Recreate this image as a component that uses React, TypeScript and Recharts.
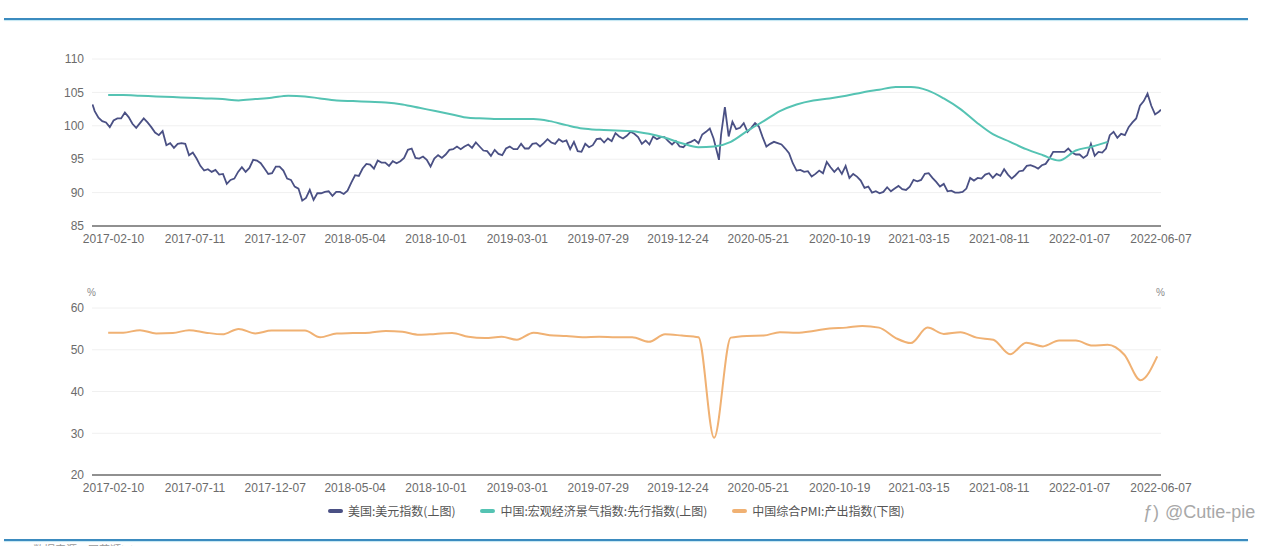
import React from "react";
import { LineChart, Line, XAxis, YAxis, CartesianGrid } from "recharts";

const USD_COLOR = "#4a5084";
const LEAD_COLOR = "#55c3b3";
const PMI_COLOR = "#f0b173";
const AXIS_TEXT = "#6b6b6b";
const FONT = '"Liberation Sans", Arial, "Noto Sans CJK SC", sans-serif';
const CJK_FONT = '"Noto Sans CJK SC", "Liberation Sans", sans-serif';

const DAY = 86400000;
const X_START = "2017-01-01";
const X_END = "2022-06-07";

const xTickLabels = [
  "2017-02-10", "2017-07-11", "2017-12-07", "2018-05-04", "2018-10-01",
  "2019-03-01", "2019-07-29", "2019-12-24", "2020-05-21", "2020-10-19",
  "2021-03-15", "2021-08-11", "2022-01-07", "2022-06-07",
];

const topTicks = [85, 90, 95, 100, 105, 110];
const bottomTicks = [20, 30, 40, 50, 60];

// 美国:美元指数 - weekly closes (Fridays), one list per year
const usd2017Start = "2017-01-06";
const usd2017 = [
  102.2, 101.2, 100.7, 100.5, 99.8, 100.8, 101.1, 101.1, 102.0, 101.3, 100.3, 99.7, 100.4,
  101.1, 100.5, 99.8, 99.0, 98.6, 99.2, 97.1, 97.4, 96.7, 97.3, 97.4, 97.3, 95.6,
  96.0, 95.1, 94.0, 93.3, 93.5, 93.1, 93.4, 92.7, 92.8, 91.3, 91.9, 92.1, 93.1,
  93.8, 93.1, 93.7, 94.9, 94.8, 94.4, 93.6, 92.8, 92.9, 93.9, 93.9, 93.3, 92.1,
];
const usd2018Start = "2018-01-05";
const usd2018 = [
  91.9, 90.9, 90.6, 88.8, 89.2, 90.4, 88.9, 89.9, 89.9, 90.1, 90.2, 89.5, 90.1,
  90.1, 89.8, 90.3, 91.5, 92.6, 92.5, 93.6, 94.3, 94.2, 93.6, 94.8, 94.5, 94.5,
  94.0, 94.7, 94.4, 94.7, 95.2, 96.4, 96.6, 95.2, 95.1, 95.4, 94.9, 93.9, 95.1,
  95.6, 95.2, 95.7, 96.4, 96.5, 96.9, 96.5, 96.9, 97.2, 96.7, 97.5, 96.9, 96.3,
];
const usd2019Start = "2019-01-04";
const usd2019 = [
  96.2, 95.5, 96.4, 95.8, 95.6, 96.6, 96.9, 96.5, 96.5, 97.3, 96.6, 96.6, 97.3,
  97.4, 96.9, 97.4, 98.0, 97.5, 97.3, 98.0, 97.6, 97.8, 96.5, 97.6, 96.2, 96.1,
  97.3, 96.8, 97.1, 98.0, 98.1, 97.5, 98.1, 97.7, 98.9, 98.4, 98.1, 98.5, 99.1,
  98.8, 98.3, 97.3, 97.8, 97.2, 98.4, 98.0, 98.3, 98.3, 97.7, 97.2, 97.7, 96.9,
];
const usd2020Start = "2020-01-03";
const usd2020 = [
  96.8, 97.4, 97.6, 97.9, 97.4, 98.7, 99.1, 99.6, 98.1, 95.9, 98.7, 102.8, 98.4,
  100.6, 99.5, 99.7, 100.4, 99.1, 99.7, 100.4, 99.9, 98.3, 96.9, 97.3, 97.6, 97.4,
  97.2, 96.6, 95.9, 94.4, 93.3, 93.4, 93.1, 93.2, 92.4, 92.8, 93.3, 92.9, 94.6,
  93.8, 93.1, 93.7, 92.8, 94.0, 92.2, 92.8, 92.4, 91.8, 90.7, 90.9, 90.0, 90.2,
];
const usd2021Start = "2021-01-01";
const usd2021 = [
  89.9, 90.1, 90.8, 90.2, 90.6, 91.0, 90.5, 90.4, 90.9, 91.9, 91.7, 91.9, 92.8,
  92.9, 92.2, 91.6, 90.9, 91.3, 90.2, 90.3, 90.0, 90.0, 90.1, 90.6, 92.2, 91.8,
  92.2, 92.1, 92.7, 92.9, 92.2, 92.8, 92.5, 93.5, 92.7, 92.1, 92.6, 93.2, 93.3,
  94.0, 94.1, 93.9, 93.6, 94.1, 94.3, 95.1, 96.1, 96.1, 96.1, 96.1, 96.6, 96.0, 95.7,
];
const usd2022Start = "2022-01-07";
const usd2022 = [
  95.7, 95.2, 95.6, 97.3, 95.5, 96.1, 96.0, 96.6, 98.6, 99.1, 98.2,
  98.8, 98.6, 99.8, 100.5, 101.1, 103.0, 103.7, 104.8, 103.0, 101.7, 102.1,
];
// single days that the weekly closes miss
const usdExtraDates = ["2017-01-02", "2020-03-09", "2022-06-07"];
const usdExtraValues = [103.2, 94.9, 102.4];

// 中国:宏观经济景气指数:先行指数 - monthly, from Jan 2017
const leadStart = { year: 2017, month: 0 };
const leadValues = [
  104.6, 104.6, 104.5, 104.4, 104.3, 104.2, 104.1, 104.0, 103.8, 104.0,
  104.2, 104.5, 104.4, 104.1, 103.8, 103.7, 103.6, 103.5, 103.2, 102.7,
  102.2, 101.7, 101.2, 101.1, 101.0, 101.0, 101.0, 100.7, 100.1, 99.6,
  99.4, 99.3, 99.2, 98.8, 98.2, 97.4, 96.8, 96.9, 97.6, 99.2,
  100.7, 102.2, 103.2, 103.8, 104.1, 104.5, 105.0, 105.4, 105.8, 105.8,
  105.3, 104.1, 102.5, 100.5, 98.7, 97.6, 96.5, 95.6, 94.8, 96.3,
  96.9, 97.6,
];

// 中国综合PMI:产出指数 - monthly, from Jan 2017
const pmiStart = { year: 2017, month: 0 };
const pmiValues = [
  54.1, 54.1, 54.7, 53.9, 54.0, 54.7, 54.1, 53.7, 55.0, 53.9,
  54.6, 54.6, 54.6, 53.0, 53.9, 54.0, 54.1, 54.5, 54.3, 53.6,
  53.8, 54.0, 53.1, 52.8, 53.1, 52.4, 54.1, 53.5, 53.3, 53.0,
  53.1, 53.0, 53.0, 51.9, 53.7, 53.4, 53.0, 28.9, 52.9, 53.3,
  53.4, 54.2, 54.1, 54.5, 55.1, 55.3, 55.7, 55.3, 52.8, 51.6,
  55.3, 53.8, 54.2, 52.9, 52.4, 48.9, 51.7, 50.8, 52.2, 52.2,
  51.0, 51.2, 48.8, 42.7, 48.4,
];

const legendItems = [
  { name: "美国:美元指数(上图)", color: USD_COLOR },
  { name: "中国:宏观经济景气指数:先行指数(上图)", color: LEAD_COLOR },
  { name: "中国综合PMI:产出指数(下图)", color: PMI_COLOR },
];

const toT = (s: string) => Date.parse(s);

const weekly = (start: string, values: number[]) =>
  values.map((v, i) => ({ t: toT(start) + i * 7 * DAY, v }));

// monthly values sit on the last day of each month
const monthly = (start: { year: number; month: number }, values: number[]) =>
  values.map((v, i) => ({ t: Date.UTC(start.year, start.month + i + 1, 0), v }));

const usdData = [
  ...weekly(usd2017Start, usd2017),
  ...weekly(usd2018Start, usd2018),
  ...weekly(usd2019Start, usd2019),
  ...weekly(usd2020Start, usd2020),
  ...weekly(usd2021Start, usd2021),
  ...weekly(usd2022Start, usd2022),
  ...usdExtraDates.map((d, i) => ({ t: toT(d), v: usdExtraValues[i] })),
].sort((a, b) => a.t - b.t);

const leadData = monthly(leadStart, leadValues);
const pmiData = monthly(pmiStart, pmiValues);

const xDomain = [toT(X_START), toT(X_END)];
const xTicks = xTickLabels.map(toT);
const fmtDate = (t: number) => new Date(t).toISOString().slice(0, 10);

const tickStyle = { fontSize: 12, fill: AXIS_TEXT, fontFamily: FONT };
const chartMargin = { left: 52, right: 79 };

function Rule({ top }: { top: number }) {
  return (
    <div
      style={{
        position: "absolute",
        left: 4,
        top,
        width: 1244,
        height: 2,
        background: "#3b8bbf",
        boxShadow: "0 1px 1px #c3e6f2",
      }}
    />
  );
}

export default function App() {
  return (
    <div
      style={{
        position: "absolute",
        left: 0,
        top: 0,
        width: 1280,
        height: 546,
        overflow: "hidden",
        background: "#fff",
        fontFamily: FONT,
      }}
    >
      <Rule top={18} />

      {/* upper panel: dollar index + leading index */}
      <div style={{ position: "absolute", left: 0, top: 0 }}>
        <LineChart
          width={1280}
          height={260}
          margin={{ top: 59, bottom: 4, ...chartMargin }}
        >
          <CartesianGrid yAxisId="l" vertical={false} stroke="#f0f0f0" />
          <XAxis
            type="number"
            dataKey="t"
            domain={xDomain}
            ticks={xTicks}
            interval={0}
            tickFormatter={fmtDate}
            tick={tickStyle}
            tickLine={false}
            axisLine={{ stroke: "#6e6e6e", strokeWidth: 1.5 }}
            height={30}
            allowDataOverflow
          />
          <YAxis
            yAxisId="l"
            domain={[85, 110]}
            ticks={topTicks}
            width={40}
            tick={tickStyle}
            axisLine={false}
            tickLine={false}
          />
          <YAxis
            yAxisId="r"
            orientation="right"
            domain={[85, 110]}
            ticks={topTicks}
            width={40}
            tick={tickStyle}
            axisLine={false}
            tickLine={false}
          />
          <Line
            yAxisId="l"
            data={usdData}
            dataKey="v"
            type="linear"
            stroke={USD_COLOR}
            strokeWidth={1.8}
            dot={false}
            isAnimationActive={false}
          />
          <Line
            yAxisId="l"
            data={leadData}
            dataKey="v"
            type="monotone"
            stroke={LEAD_COLOR}
            strokeWidth={2}
            dot={false}
            isAnimationActive={false}
          />
        </LineChart>
      </div>

      {/* lower panel: composite PMI output */}
      <div style={{ position: "absolute", left: 0, top: 260 }}>
        <LineChart
          width={1280}
          height={250}
          margin={{ top: 48, bottom: 5, ...chartMargin }}
        >
          <CartesianGrid yAxisId="l" vertical={false} stroke="#f0f0f0" />
          <XAxis
            type="number"
            dataKey="t"
            domain={xDomain}
            ticks={xTicks}
            interval={0}
            tickFormatter={fmtDate}
            tick={tickStyle}
            tickLine={false}
            axisLine={{ stroke: "#6e6e6e", strokeWidth: 1.5 }}
            height={30}
            allowDataOverflow
          />
          <YAxis
            yAxisId="l"
            domain={[20, 60]}
            ticks={bottomTicks}
            width={40}
            tick={tickStyle}
            axisLine={false}
            tickLine={false}
          />
          <YAxis
            yAxisId="r"
            orientation="right"
            domain={[20, 60]}
            ticks={bottomTicks}
            width={40}
            tick={tickStyle}
            axisLine={false}
            tickLine={false}
          />
          <Line
            yAxisId="l"
            data={pmiData}
            dataKey="v"
            type="monotone"
            stroke={PMI_COLOR}
            strokeWidth={2}
            dot={false}
            isAnimationActive={false}
          />
        </LineChart>
      </div>

      {/* unit marks above the lower axes */}
      <div style={{ position: "absolute", left: 87, top: 287, fontSize: 10, color: "#8a8a8a" }}>%</div>
      <div style={{ position: "absolute", left: 1156, top: 287, fontSize: 10, color: "#8a8a8a" }}>%</div>

      {/* legend */}
      <div
        style={{
          position: "absolute",
          left: 328,
          top: 503,
          display: "flex",
          alignItems: "center",
          gap: 25,
          fontFamily: CJK_FONT,
          fontSize: 12,
          lineHeight: "16px",
          color: "#555",
          whiteSpace: "nowrap",
        }}
      >
        {legendItems.map((it) => (
          <div key={it.name} style={{ display: "flex", alignItems: "center" }}>
            <span
              style={{
                display: "inline-block",
                width: 15,
                height: 4,
                borderRadius: 2,
                background: it.color,
                marginRight: 5,
              }}
            />
            <span>{it.name}</span>
          </div>
        ))}
      </div>

      {/* watermark */}
      <div
        style={{
          position: "absolute",
          left: 1143,
          top: 502,
          fontSize: 18,
          color: "#a8a8a8",
          whiteSpace: "nowrap",
        }}
      >
        <span style={{ marginRight: 6 }}>ƒ)</span>@Cutie-pie
      </div>

      <Rule top={539} />
      <div
        style={{
          position: "absolute",
          left: 33,
          top: 541,
          fontSize: 11,
          color: "#999",
          fontFamily: CJK_FONT,
          whiteSpace: "nowrap",
        }}
      >
        数据来源：同花顺iFinD
      </div>
    </div>
  );
}
